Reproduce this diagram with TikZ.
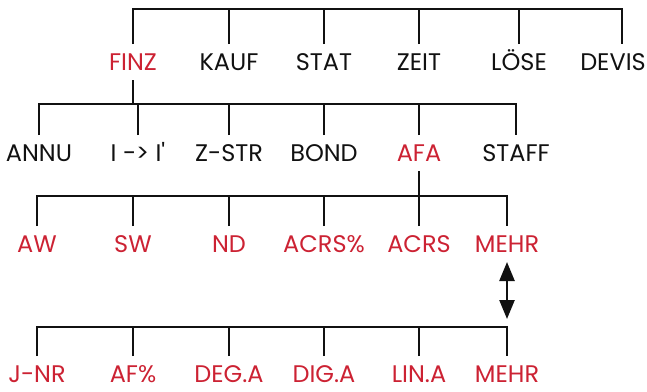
\documentclass[tikz,border=0pt]{standalone}
\usepackage{fontspec}
\setmainfont{Poppins}
\usetikzlibrary{arrows.meta, positioning}
\definecolor{cred}{HTML}{CC2233}
\definecolor{cblack}{HTML}{111111}
\tikzset{
  every picture/.style={font=\fontsize{24}{28}\selectfont, line width=2.5pt},
  key/.style={text=cblack, text height=17.5pt, text depth=0pt, inner xsep=2pt, inner ysep=8pt, anchor=center},
  keyr/.style={key, text=cred},
  tree/.style={draw=cblack, line width=2.5pt},
  arrow/.style={{Triangle[length=19pt,width=15pt]}-{Triangle[length=19pt,width=15pt]}, draw=cblack, line width=2.5pt},
}

\begin{document}
\begin{tikzpicture}[x=1pt, y=-1pt]
  \useasboundingbox (0,0) rectangle (647,391);
  % main menu
  \coordinate (top) at (0,9);
  \node[keyr] (finz) at (133,62) {FINZ};
  \node[key] (kauf) at (229,62) {KAUF};
  \node[key] (stat) at (324,62) {STAT};
  \node[key] (zeit) at (419,62) {ZEIT};
  \node[key] (loese) at (519,62) {LÖSE};
  \node[key] (devis) at (613,62) {DEVIS};
  \coordinate (devtop) at ([xshift=9pt]devis.north);
  \draw[tree] (finz.north) |- (top -| devtop) -- (devtop);
  \foreach \n in {kauf,stat,zeit,loese}
    \draw[tree] (\n.north) -- (\n.north |- top);
  % FINZ
  \coordinate (mid) at (0,104);
  \node[key] (annu) at (39,153) {ANNU};
  \node[key] (iconv) at (138,153) {I -> I\textquotesingle};
  \node[key] (zstr) at (229,153) {Z-STR};
  \node[key] (bond) at (324,153) {BOND};
  \node[keyr] (afa) at (419,153) {AFA};
  \node[key] (staff) at (516,153) {STAFF};
  \draw[tree] (finz.south) -- (finz.south |- mid);
  \draw[tree] (annu.north) |- (mid -| staff) -- (staff.north);
  \foreach \n in {iconv,zstr,bond,afa}
    \draw[tree] (\n.north) -- (\n.north |- mid);
  % AFA
  \coordinate (low) at (0,196);
  \node[keyr] (aw) at (37,244) {AW};
  \node[keyr] (sw) at (133,244) {SW};
  \node[keyr] (nd) at (229,244) {ND};
  \node[keyr] (acrsp) at (324,244) {ACRS\%};
  \node[keyr] (acrs) at (419,244) {ACRS};
  \node[keyr] (mehra) at (507,244) {MEHR};
  \draw[tree] (afa.south) -- (afa.south |- low);
  \draw[tree] (aw.north) |- (low -| mehra) -- (mehra.north);
  \foreach \n in {sw,nd,acrsp,acrs}
    \draw[tree] (\n.north) -- (\n.north |- low);
  % MEHR
  \coordinate (more) at (0,327);
  \coordinate (next) at (507,319);
  \node[keyr] (jnr) at (37,374) {J-NR};
  \node[keyr] (afp) at (133,374) {AF\%};
  \node[keyr] (dega) at (229,374) {DEG.A};
  \node[keyr] (diga) at (324,374) {DIG.A};
  \node[keyr] (lina) at (419,374) {LIN.A};
  \node[keyr] (mehrb) at (507,374) {MEHR};
  \draw[tree] (jnr.north) |- (more -| mehrb) -- (mehrb.north);
  \foreach \n in {afp,dega,diga,lina}
    \draw[tree] (\n.north) -- (\n.north |- more);
  \draw[arrow] (mehra.south) -- (next);
\end{tikzpicture}
\end{document}
